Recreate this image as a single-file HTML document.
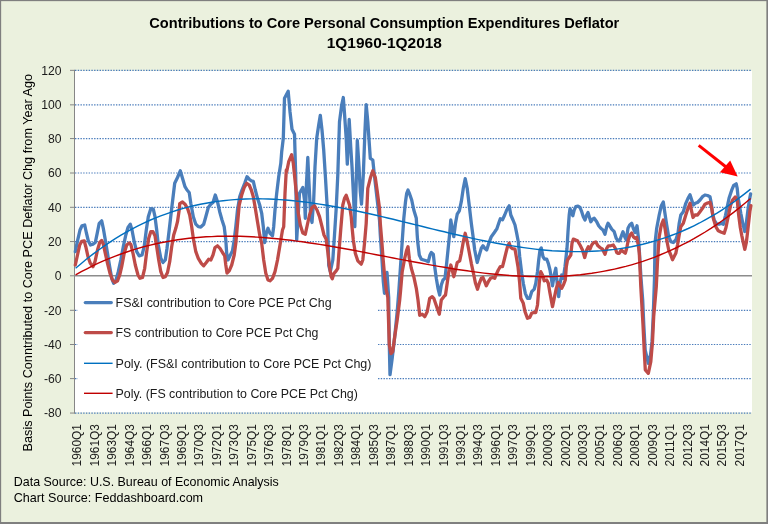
<!DOCTYPE html>
<html><head><meta charset="utf-8"><title>Chart</title>
<style>html,body{margin:0;padding:0;background:#EBF1DE}body{width:768px;height:524px;overflow:hidden}</style>
</head><body>
<div id="chart" style="width:768px;height:524px;will-change:transform">
<svg width="768" height="524" viewBox="0 0 768 524" style="display:block;font-family:'Liberation Sans',sans-serif">
<rect x="0" y="0" width="768" height="524" fill="#7F7F7F"/>
<rect x="1.15" y="1.15" width="765.45" height="520.95" fill="#EBF1DE"/>
<rect x="75" y="70.8" width="677" height="341.6" fill="#fff"/>
<line x1="75" y1="70.35" x2="752" y2="70.35" stroke="#4A7CBB" stroke-width="1.15" stroke-dasharray="1.4,1.33"/>
<line x1="75" y1="104.85" x2="752" y2="104.85" stroke="#4A7CBB" stroke-width="1.15" stroke-dasharray="1.4,1.33"/>
<line x1="75" y1="138.55" x2="752" y2="138.55" stroke="#4A7CBB" stroke-width="1.15" stroke-dasharray="1.4,1.33"/>
<line x1="75" y1="173.00" x2="752" y2="173.00" stroke="#4A7CBB" stroke-width="1.15" stroke-dasharray="1.4,1.33"/>
<line x1="75" y1="207.30" x2="752" y2="207.30" stroke="#4A7CBB" stroke-width="1.15" stroke-dasharray="1.4,1.33"/>
<line x1="75" y1="241.55" x2="752" y2="241.55" stroke="#4A7CBB" stroke-width="1.15" stroke-dasharray="1.4,1.33"/>
<line x1="75" y1="310.30" x2="752" y2="310.30" stroke="#4A7CBB" stroke-width="1.15" stroke-dasharray="1.4,1.33"/>
<line x1="75" y1="344.50" x2="752" y2="344.50" stroke="#4A7CBB" stroke-width="1.15" stroke-dasharray="1.4,1.33"/>
<line x1="75" y1="378.60" x2="752" y2="378.60" stroke="#4A7CBB" stroke-width="1.15" stroke-dasharray="1.4,1.33"/>
<line x1="75" y1="413.05" x2="752" y2="413.05" stroke="#4A7CBB" stroke-width="1.15" stroke-dasharray="1.4,1.33"/>
<rect x="78" y="287" width="299" height="123" fill="#fff"/>
<line x1="74.5" y1="69.85" x2="74.5" y2="413.55" stroke="#868686" stroke-width="1"/>
<line x1="70" y1="70.35" x2="75" y2="70.35" stroke="#868686" stroke-width="1"/>
<line x1="70" y1="104.85" x2="75" y2="104.85" stroke="#868686" stroke-width="1"/>
<line x1="70" y1="138.55" x2="75" y2="138.55" stroke="#868686" stroke-width="1"/>
<line x1="70" y1="173.00" x2="75" y2="173.00" stroke="#868686" stroke-width="1"/>
<line x1="70" y1="207.30" x2="75" y2="207.30" stroke="#868686" stroke-width="1"/>
<line x1="70" y1="241.55" x2="75" y2="241.55" stroke="#868686" stroke-width="1"/>
<line x1="70" y1="275.80" x2="75" y2="275.80" stroke="#868686" stroke-width="1"/>
<line x1="70" y1="310.30" x2="75" y2="310.30" stroke="#868686" stroke-width="1"/>
<line x1="70" y1="344.50" x2="75" y2="344.50" stroke="#868686" stroke-width="1"/>
<line x1="70" y1="378.60" x2="75" y2="378.60" stroke="#868686" stroke-width="1"/>
<line x1="70" y1="413.05" x2="75" y2="413.05" stroke="#868686" stroke-width="1"/>
<line x1="74" y1="275.80" x2="752" y2="275.80" stroke="#8C8C8C" stroke-width="1.5"/>
<path d="M75.3,251.7 L77.5,240.8 L80.0,230.0 L82.0,225.8 L84.7,225.0 L86.3,232.5 L88.3,240.8 L90.5,245.0 L93.0,244.2 L95.3,242.5 L97.2,233.3 L99.2,223.3 L101.7,220.8 L103.3,228.3 L105.3,240.0 L107.5,253.3 L109.7,266.7 L111.7,278.3 L113.7,283.3 L115.8,280.8 L118.3,271.7 L120.8,260.0 L123.3,246.7 L125.8,235.0 L128.0,227.5 L130.3,224.2 L132.0,230.0 L134.2,241.7 L136.7,251.7 L139.2,255.8 L142.0,255.0 L144.2,246.7 L146.3,230.0 L148.3,216.7 L150.8,208.7 L153.3,209.2 L155.0,216.7 L156.7,230.0 L158.3,245.0 L160.8,258.3 L163.0,262.5 L165.3,260.0 L167.0,248.3 L169.2,230.0 L171.3,211.7 L174.7,183.3 L177.5,177.5 L180.3,170.8 L182.5,178.3 L185.0,186.7 L187.0,190.0 L189.2,192.5 L190.8,203.3 L193.3,216.7 L195.8,224.2 L198.3,226.7 L200.8,227.0 L203.7,224.2 L205.8,216.7 L208.3,207.5 L210.8,204.2 L213.0,202.5 L215.3,195.0 L217.5,201.7 L219.7,211.7 L222.0,220.0 L224.2,226.7 L225.8,240.0 L226.7,253.3 L228.0,260.0 L230.0,255.8 L232.5,250.8 L234.2,240.0 L235.8,226.7 L237.5,210.0 L239.7,196.7 L242.0,190.0 L244.7,183.3 L247.0,176.7 L249.2,179.2 L251.3,180.8 L253.3,181.3 L255.3,190.0 L257.5,198.3 L259.7,205.0 L261.7,213.3 L263.3,226.7 L264.7,242.5 L266.3,233.3 L268.0,228.3 L270.0,233.3 L272.5,235.8 L273.7,226.7 L275.0,210.0 L276.7,193.3 L278.7,176.7 L280.8,163.3 L281.7,151.7 L283.3,138.3 L284.5,98.3 L288.2,91.3 L290.0,111.7 L292.0,129.2 L294.5,134.2 L295.7,175.0 L296.7,240.0 L299.5,193.3 L302.8,187.5 L304.5,200.0 L305.3,218.3 L306.5,183.3 L307.8,157.5 L309.0,183.3 L310.7,216.7 L312.0,222.5 L313.7,200.0 L315.0,166.7 L316.7,138.3 L318.7,125.0 L320.3,115.3 L322.0,130.0 L323.7,150.0 L325.3,175.0 L327.3,208.3 L328.7,265.0 L330.3,271.7 L332.8,260.0 L334.5,235.0 L336.2,208.3 L337.8,175.0 L339.5,121.7 L341.7,105.0 L343.3,97.5 L344.5,113.3 L346.2,138.3 L347.3,164.2 L349.2,119.5 L350.7,146.7 L352.0,166.7 L353.7,200.0 L354.8,226.7 L356.2,183.3 L357.3,140.3 L359.0,166.7 L360.3,191.7 L361.5,204.2 L363.3,175.0 L365.0,130.0 L366.2,104.7 L367.8,121.7 L369.5,146.7 L370.3,158.3 L372.8,160.0 L374.0,171.7 L375.3,183.3 L377.8,205.0 L379.5,220.0 L380.3,235.0 L382.0,260.0 L383.3,281.7 L384.5,293.3 L387.0,272.5 L388.7,297.3 L389.3,345.0 L390.0,374.7 L392.2,358.3 L394.7,336.7 L397.2,311.7 L398.8,291.7 L400.5,266.7 L402.2,241.7 L403.8,218.3 L405.5,201.7 L406.7,193.3 L408.0,190.0 L409.7,194.2 L411.7,200.0 L413.8,210.0 L416.3,218.3 L417.2,235.0 L417.7,241.7 L419.3,255.0 L421.3,259.2 L423.8,260.0 L426.3,260.8 L428.3,261.7 L430.0,255.0 L431.3,252.5 L433.3,254.2 L434.7,266.7 L436.3,278.3 L438.0,288.3 L439.7,295.0 L441.3,285.0 L443.0,280.0 L445.0,278.3 L446.3,266.7 L448.0,250.0 L449.7,233.3 L450.8,220.0 L452.2,228.3 L453.8,236.7 L455.5,223.3 L457.2,214.2 L459.3,210.8 L461.3,201.7 L463.3,188.3 L465.2,178.7 L467.2,188.3 L468.8,201.7 L471.3,223.3 L473.3,238.3 L474.7,250.0 L477.2,262.5 L479.3,255.0 L481.3,248.3 L483.0,245.8 L484.7,248.3 L486.7,250.0 L488.8,243.3 L491.3,236.7 L493.8,233.3 L496.0,230.0 L496.7,229.2 L498.7,223.3 L500.3,218.7 L502.5,219.7 L504.7,215.0 L506.7,210.0 L509.2,205.8 L510.8,215.0 L513.0,220.0 L515.0,225.0 L516.7,233.3 L518.3,241.7 L519.7,256.7 L521.7,273.3 L523.3,283.3 L525.3,293.3 L527.5,298.3 L529.7,298.3 L531.7,291.7 L534.2,289.2 L535.8,283.3 L537.5,271.7 L538.7,260.0 L540.0,250.0 L541.3,248.0 L543.0,256.7 L544.7,259.2 L546.7,259.2 L548.3,263.3 L550.0,270.0 L552.5,285.8 L554.2,275.0 L555.8,268.3 L557.2,283.3 L558.7,296.7 L560.0,283.3 L561.7,275.0 L563.3,278.3 L565.0,266.7 L567.0,248.3 L568.0,231.7 L569.2,215.0 L570.0,208.7 L571.3,211.7 L572.8,215.8 L574.2,210.0 L575.8,206.7 L578.0,206.2 L580.0,207.5 L581.7,211.7 L583.3,216.7 L585.0,220.0 L586.7,215.0 L588.0,212.5 L589.5,217.5 L590.8,221.7 L592.5,219.2 L594.2,218.3 L596.7,221.7 L598.7,225.8 L600.8,228.3 L603.0,230.0 L605.0,234.2 L606.7,226.7 L608.0,223.3 L609.7,225.8 L611.7,229.2 L614.2,231.7 L616.2,238.3 L618.0,240.8 L619.7,240.8 L621.7,235.0 L623.0,231.7 L624.7,236.7 L626.3,240.0 L628.0,228.3 L629.7,225.0 L631.7,223.3 L633.3,228.3 L635.0,232.5 L637.0,225.8 L638.3,236.7 L639.3,250.0 L641.0,278.3 L642.7,300.0 L643.8,325.0 L645.2,350.0 L648.3,363.3 L650.5,355.0 L652.0,341.7 L653.2,316.7 L654.5,278.3 L655.0,243.3 L656.7,228.3 L659.2,215.0 L661.3,205.8 L663.3,202.0 L664.7,211.7 L666.7,225.0 L668.7,236.7 L670.8,241.7 L673.3,242.5 L675.8,240.0 L678.0,233.3 L679.2,223.3 L680.8,215.0 L683.3,211.7 L685.8,203.3 L688.0,198.3 L690.0,194.7 L691.7,200.0 L693.3,205.0 L695.3,203.3 L697.5,202.5 L700.0,200.0 L702.5,196.7 L705.0,195.0 L707.5,195.5 L710.0,196.7 L711.3,203.3 L712.5,213.3 L714.2,220.0 L716.7,224.2 L719.2,224.2 L721.3,223.3 L723.3,224.2 L725.5,215.3 L727.6,205.2 L729.1,198.0 L731.6,190.4 L733.7,185.3 L736.2,183.8 L737.2,188.4 L738.2,198.5 L738.7,201.1 L740.8,213.3 L742.8,223.4 L744.8,231.5 L746.3,223.4 L747.9,210.2 L749.4,200.1 L750.6,193.9" fill="none" stroke="#4A7EBB" stroke-width="3.3" stroke-linejoin="round" stroke-linecap="round"/>
<path d="M75.3,265.0 L77.5,255.0 L79.7,245.0 L81.7,241.3 L84.2,240.8 L85.8,246.7 L88.0,256.7 L90.3,263.3 L93.0,266.7 L95.0,261.7 L97.5,250.0 L99.7,242.5 L101.7,240.5 L103.3,244.2 L105.3,253.3 L107.5,263.3 L110.0,273.3 L112.5,280.0 L115.0,282.5 L117.5,280.8 L119.7,275.0 L121.7,266.7 L124.2,253.3 L126.7,245.0 L129.2,243.0 L130.8,244.2 L133.0,253.3 L135.3,265.0 L138.0,275.0 L140.0,278.3 L142.5,277.5 L144.7,268.3 L146.7,251.7 L148.7,238.3 L150.8,231.7 L153.0,231.7 L155.0,235.8 L156.7,246.7 L158.7,260.0 L160.8,271.7 L163.0,277.5 L165.3,276.7 L167.5,272.5 L169.7,261.7 L171.7,246.7 L173.7,235.0 L175.8,228.3 L177.5,221.7 L179.2,210.0 L179.7,203.7 L182.5,202.0 L185.0,204.2 L187.5,208.3 L189.7,215.0 L191.7,226.7 L193.3,238.3 L195.8,251.7 L198.3,258.3 L201.3,263.3 L203.7,265.8 L206.3,262.5 L208.7,259.2 L210.8,260.0 L213.0,255.0 L215.0,247.5 L217.5,245.8 L220.0,248.3 L222.5,252.5 L224.7,255.8 L225.8,265.0 L227.0,273.0 L229.2,270.8 L231.7,265.0 L234.2,255.0 L235.8,243.3 L239.2,205.0 L241.7,195.0 L244.2,187.5 L246.7,183.3 L249.2,185.0 L251.3,190.0 L253.3,196.7 L255.3,208.3 L257.5,221.7 L259.7,235.0 L261.7,243.3 L263.7,260.0 L265.8,273.3 L268.0,280.0 L270.0,280.8 L272.5,278.3 L275.0,271.7 L277.5,260.0 L280.0,245.0 L282.5,230.0 L283.7,226.7 L285.0,193.3 L286.3,170.0 L286.7,171.7 L288.7,161.7 L291.7,154.7 L293.3,163.3 L295.0,180.0 L296.7,196.7 L298.3,213.3 L300.3,225.0 L302.8,233.0 L305.3,234.2 L307.3,225.0 L309.5,215.0 L312.0,207.5 L314.5,205.8 L317.0,210.0 L319.5,216.7 L322.0,226.7 L324.0,235.0 L326.2,239.2 L327.8,251.7 L329.5,266.7 L331.2,276.7 L332.3,278.7 L334.0,273.3 L336.2,270.8 L337.8,268.3 L339.0,251.7 L340.7,230.0 L342.8,205.0 L344.5,198.3 L346.2,195.3 L347.8,200.0 L349.5,205.0 L351.2,216.7 L352.0,226.7 L353.3,240.0 L355.3,253.3 L357.8,260.8 L361.2,264.2 L362.8,260.0 L364.5,243.3 L366.2,223.3 L367.8,188.3 L370.3,178.3 L372.8,170.8 L375.3,177.5 L377.3,191.7 L379.5,208.3 L380.3,223.3 L381.7,240.0 L383.2,260.0 L384.7,276.7 L386.3,290.0 L387.8,297.3 L389.3,345.0 L391.0,353.7 L392.7,351.7 L394.7,336.7 L397.2,320.0 L399.7,300.0 L400.5,291.7 L402.2,271.7 L404.7,258.3 L406.7,250.0 L408.0,246.7 L409.3,258.3 L411.3,268.3 L413.8,276.7 L416.3,288.3 L418.0,300.0 L419.7,315.3 L422.2,314.2 L424.7,316.7 L427.2,311.7 L428.8,303.3 L429.7,298.3 L432.2,296.7 L433.8,298.3 L435.5,303.3 L437.2,308.3 L439.3,314.2 L441.3,300.0 L443.8,296.7 L445.5,295.0 L447.2,283.3 L448.8,271.7 L450.8,265.0 L452.2,270.0 L453.8,276.7 L455.5,270.0 L457.2,262.5 L459.7,260.8 L461.3,253.3 L463.3,241.7 L465.2,233.3 L467.2,241.7 L468.8,250.0 L471.3,263.3 L473.8,275.0 L475.5,283.3 L477.5,289.2 L479.3,283.3 L481.3,278.3 L483.0,277.5 L484.7,281.7 L486.3,285.8 L488.3,281.7 L490.5,278.3 L492.7,277.5 L494.7,278.3 L496.0,275.0 L498.3,270.0 L500.3,266.7 L502.5,266.7 L504.2,260.0 L505.8,253.3 L507.5,246.7 L509.2,243.3 L510.8,247.5 L512.5,248.7 L515.0,249.2 L516.3,256.7 L518.0,266.7 L519.7,283.3 L520.8,298.3 L523.3,303.3 L525.0,311.7 L527.5,318.3 L529.7,317.5 L531.7,313.3 L533.7,312.5 L535.8,312.5 L537.5,305.0 L539.2,283.3 L540.8,271.7 L542.5,275.0 L544.2,280.8 L546.7,280.0 L548.3,283.3 L550.0,293.3 L552.5,306.7 L554.2,298.3 L556.3,288.3 L558.3,282.5 L560.0,285.8 L561.7,288.3 L563.7,284.2 L565.3,280.0 L566.3,266.7 L567.5,260.0 L570.8,255.0 L572.0,243.3 L573.3,239.2 L575.0,239.7 L577.5,240.8 L580.0,245.0 L582.5,250.0 L584.7,257.5 L586.7,250.0 L588.3,246.7 L590.0,249.2 L591.7,245.0 L593.7,242.5 L595.8,242.0 L598.0,245.8 L600.0,247.5 L602.5,249.2 L605.0,254.2 L606.7,248.3 L608.3,245.8 L610.8,245.8 L613.3,245.0 L615.3,248.3 L616.7,252.5 L618.0,253.3 L619.2,253.3 L621.3,250.0 L623.3,251.7 L625.3,253.3 L626.7,248.3 L628.3,240.0 L630.0,235.0 L631.7,233.0 L633.3,236.7 L635.0,238.3 L636.7,237.5 L638.3,245.0 L639.3,253.3 L639.7,261.7 L640.8,286.7 L643.0,325.0 L644.2,350.0 L645.3,370.0 L648.3,373.3 L650.8,361.7 L652.5,341.7 L653.7,316.7 L656.3,286.7 L657.5,261.7 L659.2,236.7 L661.3,225.0 L663.3,220.0 L665.0,228.3 L666.7,240.0 L668.7,250.0 L670.8,255.0 L672.5,259.7 L675.8,253.3 L677.5,245.0 L679.2,235.0 L680.8,226.7 L683.3,223.3 L685.8,215.0 L688.0,208.3 L690.0,203.3 L691.7,211.7 L693.0,217.5 L695.0,215.0 L697.5,215.0 L700.0,211.7 L702.5,208.3 L705.0,204.2 L707.5,203.0 L710.0,202.2 L711.7,208.3 L713.3,218.3 L715.8,226.7 L718.3,230.8 L720.8,232.0 L724.2,233.3 L726.0,227.5 L727.6,219.4 L729.1,212.3 L730.6,205.2 L732.6,200.1 L735.2,197.0 L737.2,200.1 L738.7,215.3 L740.3,227.5 L741.8,235.6 L743.3,242.7 L744.8,249.3 L746.3,242.7 L747.4,233.6 L748.9,220.4 L749.9,211.2 L750.9,205.7" fill="none" stroke="#BE4B48" stroke-width="3.3" stroke-linejoin="round" stroke-linecap="round"/>
<path d="M75.6,268.3 L81.3,263.5 L86.9,258.8 L92.6,254.4 L98.3,250.2 L104.0,246.1 L109.6,242.3 L115.3,238.6 L121.0,235.2 L126.7,231.9 L132.3,228.8 L138.0,225.9 L143.7,223.1 L149.3,220.5 L155.0,218.1 L160.7,215.9 L166.4,213.8 L172.0,211.8 L177.7,210.0 L183.4,208.4 L189.0,206.9 L194.7,205.5 L200.4,204.3 L206.1,203.2 L211.7,202.2 L217.4,201.4 L223.1,200.7 L228.8,200.1 L234.4,199.6 L240.1,199.3 L245.8,199.0 L251.4,198.9 L257.1,198.8 L262.8,198.9 L268.5,199.0 L274.1,199.3 L279.8,199.6 L285.5,200.0 L291.1,200.5 L296.8,201.1 L302.5,201.7 L308.2,202.4 L313.8,203.2 L319.5,204.1 L325.2,205.0 L330.9,206.0 L336.5,207.0 L342.2,208.1 L347.9,209.2 L353.5,210.3 L359.2,211.5 L364.9,212.8 L370.6,214.0 L376.2,215.3 L381.9,216.6 L387.6,218.0 L393.2,219.3 L398.9,220.7 L404.6,222.1 L410.3,223.5 L415.9,224.9 L421.6,226.3 L427.3,227.7 L433.0,229.1 L438.6,230.5 L444.3,231.8 L450.0,233.2 L455.6,234.5 L461.3,235.8 L467.0,237.1 L472.7,238.4 L478.3,239.6 L484.0,240.7 L489.7,241.9 L495.3,243.0 L501.0,244.0 L506.7,245.0 L512.4,245.9 L518.0,246.8 L523.7,247.6 L529.4,248.4 L535.1,249.1 L540.7,249.7 L546.4,250.2 L552.1,250.7 L557.7,251.0 L563.4,251.3 L569.1,251.5 L574.8,251.6 L580.4,251.6 L586.1,251.5 L591.8,251.3 L597.4,251.0 L603.1,250.6 L608.8,250.0 L614.5,249.4 L620.1,248.6 L625.8,247.7 L631.5,246.7 L637.2,245.5 L642.8,244.2 L648.5,242.7 L654.2,241.2 L659.8,239.4 L665.5,237.6 L671.2,235.5 L676.9,233.3 L682.5,231.0 L688.2,228.5 L693.9,225.8 L699.5,223.0 L705.2,219.9 L710.9,216.7 L716.6,213.4 L722.2,209.8 L727.9,206.0 L733.6,202.1 L739.3,197.9 L744.9,193.6 L750.6,189.1" fill="none" stroke="#0070C0" stroke-width="1.4"/>
<path d="M75.6,274.9 L81.3,271.7 L86.9,268.8 L92.6,265.9 L98.3,263.2 L104.0,260.7 L109.6,258.3 L115.3,256.1 L121.0,254.0 L126.7,252.0 L132.3,250.1 L138.0,248.4 L143.7,246.8 L149.3,245.4 L155.0,244.0 L160.7,242.8 L166.4,241.7 L172.0,240.7 L177.7,239.8 L183.4,239.0 L189.0,238.3 L194.7,237.7 L200.4,237.2 L206.1,236.8 L211.7,236.6 L217.4,236.3 L223.1,236.2 L228.8,236.2 L234.4,236.2 L240.1,236.3 L245.8,236.5 L251.4,236.8 L257.1,237.1 L262.8,237.5 L268.5,238.0 L274.1,238.5 L279.8,239.0 L285.5,239.7 L291.1,240.3 L296.8,241.1 L302.5,241.8 L308.2,242.7 L313.8,243.5 L319.5,244.4 L325.2,245.3 L330.9,246.3 L336.5,247.3 L342.2,248.3 L347.9,249.3 L353.5,250.3 L359.2,251.4 L364.9,252.5 L370.6,253.6 L376.2,254.7 L381.9,255.8 L387.6,256.9 L393.2,258.0 L398.9,259.1 L404.6,260.1 L410.3,261.2 L415.9,262.3 L421.6,263.3 L427.3,264.4 L433.0,265.4 L438.6,266.4 L444.3,267.3 L450.0,268.3 L455.6,269.2 L461.3,270.0 L467.0,270.8 L472.7,271.6 L478.3,272.4 L484.0,273.1 L489.7,273.7 L495.3,274.3 L501.0,274.8 L506.7,275.3 L512.4,275.7 L518.0,276.0 L523.7,276.3 L529.4,276.5 L535.1,276.6 L540.7,276.7 L546.4,276.7 L552.1,276.6 L557.7,276.4 L563.4,276.1 L569.1,275.7 L574.8,275.2 L580.4,274.7 L586.1,274.0 L591.8,273.3 L597.4,272.4 L603.1,271.4 L608.8,270.3 L614.5,269.1 L620.1,267.8 L625.8,266.4 L631.5,264.8 L637.2,263.1 L642.8,261.3 L648.5,259.3 L654.2,257.3 L659.8,255.0 L665.5,252.7 L671.2,250.2 L676.9,247.5 L682.5,244.7 L688.2,241.8 L693.9,238.7 L699.5,235.4 L705.2,232.0 L710.9,228.4 L716.6,224.6 L722.2,220.7 L727.9,216.6 L733.6,212.4 L739.3,207.9 L744.9,203.3 L750.6,198.5" fill="none" stroke="#C00000" stroke-width="1.4"/>
<line x1="85.3" y1="302.6" x2="111.3" y2="302.6" stroke="#4A7EBB" stroke-width="3.3" stroke-linecap="round"/>
<line x1="85.3" y1="332.6" x2="111.3" y2="332.6" stroke="#BE4B48" stroke-width="3.3" stroke-linecap="round"/>
<line x1="84" y1="363.3" x2="112.6" y2="363.3" stroke="#0070C0" stroke-width="1.4"/>
<line x1="84" y1="393.3" x2="112.6" y2="393.3" stroke="#C00000" stroke-width="1.4"/>
<text x="115.6" y="307" font-size="12.3" fill="#1a1a1a" text-anchor="start" textLength="216" lengthAdjust="spacingAndGlyphs">FS&amp;I contribution to Core PCE Pct Chg</text>
<text x="115.6" y="337" font-size="12.3" fill="#1a1a1a" text-anchor="start" textLength="202.8" lengthAdjust="spacingAndGlyphs">FS contribution to Core PCE Pct Chg</text>
<text x="115.6" y="367.7" font-size="12.3" fill="#1a1a1a" text-anchor="start" textLength="255.9" lengthAdjust="spacingAndGlyphs">Poly. (FS&amp;I contribution to Core PCE Pct Chg)</text>
<text x="115.6" y="397.7" font-size="12.3" fill="#1a1a1a" text-anchor="start" textLength="242.3" lengthAdjust="spacingAndGlyphs">Poly. (FS contribution to Core PCE Pct Chg)</text>
<text x="149.3" y="27.6" font-size="15" fill="#000" text-anchor="start" font-weight="bold" textLength="470" lengthAdjust="spacingAndGlyphs">Contributions to Core Personal Consumption Expenditures Deflator</text>
<text x="326.7" y="47.6" font-size="15" fill="#000" text-anchor="start" font-weight="bold" textLength="115.3" lengthAdjust="spacingAndGlyphs">1Q1960-1Q2018</text>
<text x="61.6" y="74.75" font-size="12.15" fill="#1a1a1a" text-anchor="end">120</text>
<text x="61.6" y="109.25" font-size="12.15" fill="#1a1a1a" text-anchor="end">100</text>
<text x="61.6" y="142.95" font-size="12.15" fill="#1a1a1a" text-anchor="end">80</text>
<text x="61.6" y="177.4" font-size="12.15" fill="#1a1a1a" text-anchor="end">60</text>
<text x="61.6" y="211.7" font-size="12.15" fill="#1a1a1a" text-anchor="end">40</text>
<text x="61.6" y="245.95" font-size="12.15" fill="#1a1a1a" text-anchor="end">20</text>
<text x="61.6" y="280.2" font-size="12.15" fill="#1a1a1a" text-anchor="end">0</text>
<text x="61.6" y="314.7" font-size="12.15" fill="#1a1a1a" text-anchor="end">-20</text>
<text x="61.6" y="348.9" font-size="12.15" fill="#1a1a1a" text-anchor="end">-40</text>
<text x="61.6" y="383" font-size="12.15" fill="#1a1a1a" text-anchor="end">-60</text>
<text x="61.6" y="417.45" font-size="12.15" fill="#1a1a1a" text-anchor="end">-80</text>
<g transform="translate(31.8,451.4) rotate(-90)">
<text x="0" y="0" font-size="12.2" fill="#000" text-anchor="start" textLength="377.5" lengthAdjust="spacingAndGlyphs">Basis Points Conntributed to Core PCE Deflator Chg from Year Ago</text>
</g>
<g transform="translate(81.40,466.4) rotate(-90)">
<text x="0" y="0" font-size="12.3" fill="#1a1a1a" text-anchor="start" textLength="42.3" lengthAdjust="spacingAndGlyphs">1960Q1</text>
</g>
<g transform="translate(98.84,466.4) rotate(-90)">
<text x="0" y="0" font-size="12.3" fill="#1a1a1a" text-anchor="start" textLength="42.3" lengthAdjust="spacingAndGlyphs">1961Q3</text>
</g>
<g transform="translate(116.27,466.4) rotate(-90)">
<text x="0" y="0" font-size="12.3" fill="#1a1a1a" text-anchor="start" textLength="42.3" lengthAdjust="spacingAndGlyphs">1963Q1</text>
</g>
<g transform="translate(133.70,466.4) rotate(-90)">
<text x="0" y="0" font-size="12.3" fill="#1a1a1a" text-anchor="start" textLength="42.3" lengthAdjust="spacingAndGlyphs">1964Q3</text>
</g>
<g transform="translate(151.14,466.4) rotate(-90)">
<text x="0" y="0" font-size="12.3" fill="#1a1a1a" text-anchor="start" textLength="42.3" lengthAdjust="spacingAndGlyphs">1966Q1</text>
</g>
<g transform="translate(168.57,466.4) rotate(-90)">
<text x="0" y="0" font-size="12.3" fill="#1a1a1a" text-anchor="start" textLength="42.3" lengthAdjust="spacingAndGlyphs">1967Q3</text>
</g>
<g transform="translate(186.01,466.4) rotate(-90)">
<text x="0" y="0" font-size="12.3" fill="#1a1a1a" text-anchor="start" textLength="42.3" lengthAdjust="spacingAndGlyphs">1969Q1</text>
</g>
<g transform="translate(203.44,466.4) rotate(-90)">
<text x="0" y="0" font-size="12.3" fill="#1a1a1a" text-anchor="start" textLength="42.3" lengthAdjust="spacingAndGlyphs">1970Q3</text>
</g>
<g transform="translate(220.88,466.4) rotate(-90)">
<text x="0" y="0" font-size="12.3" fill="#1a1a1a" text-anchor="start" textLength="42.3" lengthAdjust="spacingAndGlyphs">1972Q1</text>
</g>
<g transform="translate(238.31,466.4) rotate(-90)">
<text x="0" y="0" font-size="12.3" fill="#1a1a1a" text-anchor="start" textLength="42.3" lengthAdjust="spacingAndGlyphs">1973Q3</text>
</g>
<g transform="translate(255.75,466.4) rotate(-90)">
<text x="0" y="0" font-size="12.3" fill="#1a1a1a" text-anchor="start" textLength="42.3" lengthAdjust="spacingAndGlyphs">1975Q1</text>
</g>
<g transform="translate(273.19,466.4) rotate(-90)">
<text x="0" y="0" font-size="12.3" fill="#1a1a1a" text-anchor="start" textLength="42.3" lengthAdjust="spacingAndGlyphs">1976Q3</text>
</g>
<g transform="translate(290.62,466.4) rotate(-90)">
<text x="0" y="0" font-size="12.3" fill="#1a1a1a" text-anchor="start" textLength="42.3" lengthAdjust="spacingAndGlyphs">1978Q1</text>
</g>
<g transform="translate(308.05,466.4) rotate(-90)">
<text x="0" y="0" font-size="12.3" fill="#1a1a1a" text-anchor="start" textLength="42.3" lengthAdjust="spacingAndGlyphs">1979Q3</text>
</g>
<g transform="translate(325.49,466.4) rotate(-90)">
<text x="0" y="0" font-size="12.3" fill="#1a1a1a" text-anchor="start" textLength="42.3" lengthAdjust="spacingAndGlyphs">1981Q1</text>
</g>
<g transform="translate(342.92,466.4) rotate(-90)">
<text x="0" y="0" font-size="12.3" fill="#1a1a1a" text-anchor="start" textLength="42.3" lengthAdjust="spacingAndGlyphs">1982Q3</text>
</g>
<g transform="translate(360.36,466.4) rotate(-90)">
<text x="0" y="0" font-size="12.3" fill="#1a1a1a" text-anchor="start" textLength="42.3" lengthAdjust="spacingAndGlyphs">1984Q1</text>
</g>
<g transform="translate(377.79,466.4) rotate(-90)">
<text x="0" y="0" font-size="12.3" fill="#1a1a1a" text-anchor="start" textLength="42.3" lengthAdjust="spacingAndGlyphs">1985Q3</text>
</g>
<g transform="translate(395.23,466.4) rotate(-90)">
<text x="0" y="0" font-size="12.3" fill="#1a1a1a" text-anchor="start" textLength="42.3" lengthAdjust="spacingAndGlyphs">1987Q1</text>
</g>
<g transform="translate(412.66,466.4) rotate(-90)">
<text x="0" y="0" font-size="12.3" fill="#1a1a1a" text-anchor="start" textLength="42.3" lengthAdjust="spacingAndGlyphs">1988Q3</text>
</g>
<g transform="translate(430.10,466.4) rotate(-90)">
<text x="0" y="0" font-size="12.3" fill="#1a1a1a" text-anchor="start" textLength="42.3" lengthAdjust="spacingAndGlyphs">1990Q1</text>
</g>
<g transform="translate(447.53,466.4) rotate(-90)">
<text x="0" y="0" font-size="12.3" fill="#1a1a1a" text-anchor="start" textLength="42.3" lengthAdjust="spacingAndGlyphs">1991Q3</text>
</g>
<g transform="translate(464.97,466.4) rotate(-90)">
<text x="0" y="0" font-size="12.3" fill="#1a1a1a" text-anchor="start" textLength="42.3" lengthAdjust="spacingAndGlyphs">1993Q1</text>
</g>
<g transform="translate(482.40,466.4) rotate(-90)">
<text x="0" y="0" font-size="12.3" fill="#1a1a1a" text-anchor="start" textLength="42.3" lengthAdjust="spacingAndGlyphs">1994Q3</text>
</g>
<g transform="translate(499.84,466.4) rotate(-90)">
<text x="0" y="0" font-size="12.3" fill="#1a1a1a" text-anchor="start" textLength="42.3" lengthAdjust="spacingAndGlyphs">1996Q1</text>
</g>
<g transform="translate(517.27,466.4) rotate(-90)">
<text x="0" y="0" font-size="12.3" fill="#1a1a1a" text-anchor="start" textLength="42.3" lengthAdjust="spacingAndGlyphs">1997Q3</text>
</g>
<g transform="translate(534.71,466.4) rotate(-90)">
<text x="0" y="0" font-size="12.3" fill="#1a1a1a" text-anchor="start" textLength="42.3" lengthAdjust="spacingAndGlyphs">1999Q1</text>
</g>
<g transform="translate(552.14,466.4) rotate(-90)">
<text x="0" y="0" font-size="12.3" fill="#1a1a1a" text-anchor="start" textLength="42.3" lengthAdjust="spacingAndGlyphs">2000Q3</text>
</g>
<g transform="translate(569.58,466.4) rotate(-90)">
<text x="0" y="0" font-size="12.3" fill="#1a1a1a" text-anchor="start" textLength="42.3" lengthAdjust="spacingAndGlyphs">2002Q1</text>
</g>
<g transform="translate(587.01,466.4) rotate(-90)">
<text x="0" y="0" font-size="12.3" fill="#1a1a1a" text-anchor="start" textLength="42.3" lengthAdjust="spacingAndGlyphs">2003Q3</text>
</g>
<g transform="translate(604.45,466.4) rotate(-90)">
<text x="0" y="0" font-size="12.3" fill="#1a1a1a" text-anchor="start" textLength="42.3" lengthAdjust="spacingAndGlyphs">2005Q1</text>
</g>
<g transform="translate(621.88,466.4) rotate(-90)">
<text x="0" y="0" font-size="12.3" fill="#1a1a1a" text-anchor="start" textLength="42.3" lengthAdjust="spacingAndGlyphs">2006Q3</text>
</g>
<g transform="translate(639.32,466.4) rotate(-90)">
<text x="0" y="0" font-size="12.3" fill="#1a1a1a" text-anchor="start" textLength="42.3" lengthAdjust="spacingAndGlyphs">2008Q1</text>
</g>
<g transform="translate(656.75,466.4) rotate(-90)">
<text x="0" y="0" font-size="12.3" fill="#1a1a1a" text-anchor="start" textLength="42.3" lengthAdjust="spacingAndGlyphs">2009Q3</text>
</g>
<g transform="translate(674.19,466.4) rotate(-90)">
<text x="0" y="0" font-size="12.3" fill="#1a1a1a" text-anchor="start" textLength="42.3" lengthAdjust="spacingAndGlyphs">2011Q1</text>
</g>
<g transform="translate(691.62,466.4) rotate(-90)">
<text x="0" y="0" font-size="12.3" fill="#1a1a1a" text-anchor="start" textLength="42.3" lengthAdjust="spacingAndGlyphs">2012Q3</text>
</g>
<g transform="translate(709.06,466.4) rotate(-90)">
<text x="0" y="0" font-size="12.3" fill="#1a1a1a" text-anchor="start" textLength="42.3" lengthAdjust="spacingAndGlyphs">2014Q1</text>
</g>
<g transform="translate(726.49,466.4) rotate(-90)">
<text x="0" y="0" font-size="12.3" fill="#1a1a1a" text-anchor="start" textLength="42.3" lengthAdjust="spacingAndGlyphs">2015Q3</text>
</g>
<g transform="translate(743.93,466.4) rotate(-90)">
<text x="0" y="0" font-size="12.3" fill="#1a1a1a" text-anchor="start" textLength="42.3" lengthAdjust="spacingAndGlyphs">2017Q1</text>
</g>
<text x="13.8" y="485.7" font-size="12.6" fill="#000" text-anchor="start" textLength="265" lengthAdjust="spacingAndGlyphs">Data Source: U.S. Bureau of Economic Analysis</text>
<text x="13.8" y="502.1" font-size="12.6" fill="#000" text-anchor="start" textLength="189.3" lengthAdjust="spacingAndGlyphs">Chart Source: Feddashboard.com</text>
<line x1="698.7" y1="145.4" x2="727" y2="167.8" stroke="#FF0000" stroke-width="3"/>
<polygon points="737.7,176.6 719.9,172.2 730.2,160.6" fill="#FF0000"/>
<rect x="766.6" y="0" width="1.4" height="524" fill="#7F7F7F"/>
<rect x="0" y="522.1" width="768" height="1.9" fill="#7F7F7F"/>
</svg>
</div>
</body></html>
